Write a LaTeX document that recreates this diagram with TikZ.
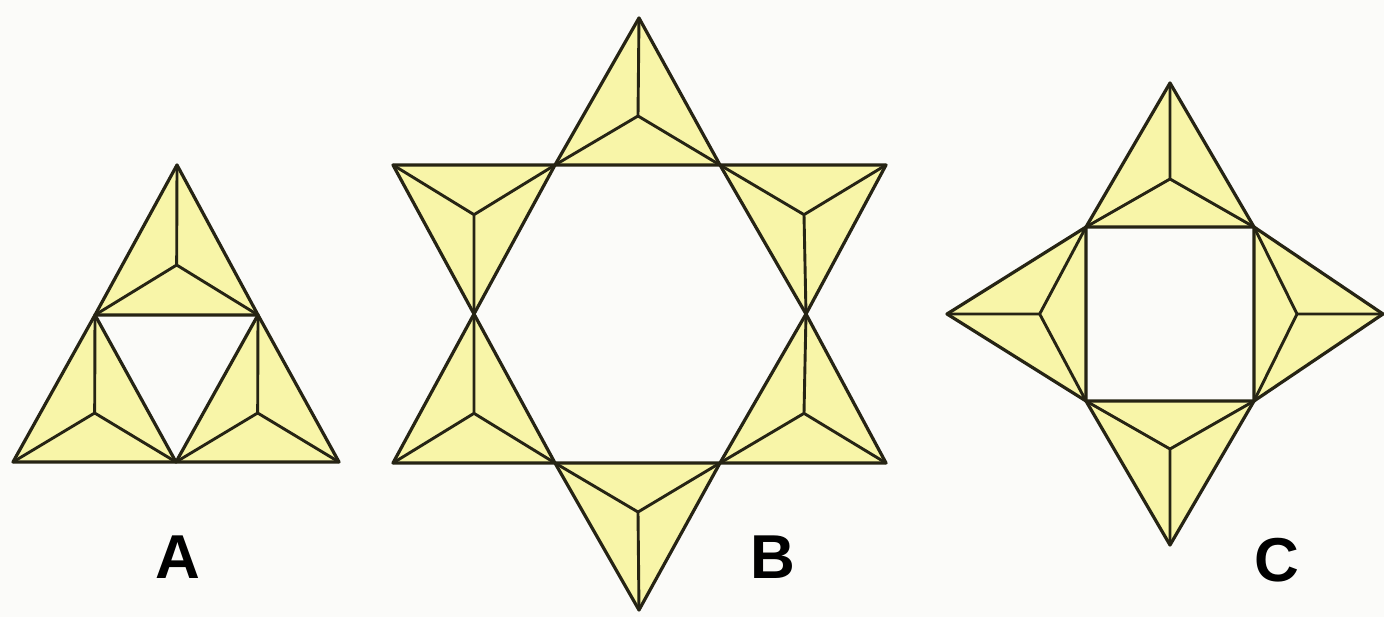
\documentclass[tikz,border=0pt]{standalone}
\usepackage{fontspec}
\setmainfont{Liberation Sans}
\usetikzlibrary{calc}
\definecolor{tetfill}{RGB}{248,245,168}
\definecolor{tetline}{RGB}{38,36,20}
\definecolor{bgcol}{RGB}{251,251,249}
\newcommand\tetra[4]{%
  \coordinate (#1c) at ($(#2)!2/3!($(#3)!0.5!(#4)$)$);
  \path[face] (#2) -- (#3) -- (#4) -- cycle;
  \draw[edge] (#1c) -- (#2) (#1c) -- (#3) (#1c) -- (#4);
}
\begin{document}
\begin{tikzpicture}[x=1pt,y=-1pt,
  face/.style={fill=tetfill,draw=tetline,line width=3.2pt,line join=round},
  edge/.style={draw=tetline,line width=2.9pt,line cap=round},
  lbl/.style={font=\fontsize{62}{62}\selectfont\bfseries,text=black,inner sep=0pt}]
\fill[bgcol] (0,0) rectangle (1384,617);
\useasboundingbox (0,0) rectangle (1384,617);
% ---------- Figure A ----------
\coordinate (AT) at (177,165);
\coordinate (AML) at (95,315);
\coordinate (AMR) at (258,315);
\coordinate (ABL) at (13,462);
\coordinate (ABM) at (176,462);
\coordinate (ABR) at (339,462);
\tetra{a1}{AT}{AML}{AMR}
\tetra{a2}{AML}{ABL}{ABM}
\tetra{a3}{AMR}{ABM}{ABR}
\node[lbl] (labA) at (178,557) {A};
% ---------- Figure B ----------
\coordinate (H1) at (555,165);
\coordinate (H2) at (720,165);
\coordinate (H3) at (806,314);
\coordinate (H4) at (720,463);
\coordinate (H5) at (555,463);
\coordinate (H6) at (474,314);
\coordinate (BT) at (639,18);
\coordinate (BUL) at (393,165);
\coordinate (BUR) at (886,165);
\coordinate (BLL) at (393,463);
\coordinate (BLR) at (886,463);
\coordinate (BB) at (639,610);
\tetra{b1}{BT}{H1}{H2}
\tetra{b2}{BUL}{H1}{H6}
\tetra{b3}{BUR}{H2}{H3}
\tetra{b4}{BLR}{H3}{H4}
\tetra{b5}{BB}{H4}{H5}
\tetra{b6}{BLL}{H5}{H6}
\node[lbl] (labB) at (773,557) {B};
% ---------- Figure C ----------
\coordinate (S1) at (1086,227);
\coordinate (S2) at (1254,227);
\coordinate (S3) at (1254,401);
\coordinate (S4) at (1086,401);
\coordinate (CT) at (1170,83);
\coordinate (CR) at (1383,314);
\coordinate (CB) at (1170,545);
\coordinate (CL) at (947,314);
\tetra{c1}{CT}{S1}{S2}
\tetra{c2}{CR}{S2}{S3}
\tetra{c3}{CB}{S3}{S4}
\tetra{c4}{CL}{S4}{S1}
\node[lbl] (labC) at (1277,560) {C};
\end{tikzpicture}
\end{document}
